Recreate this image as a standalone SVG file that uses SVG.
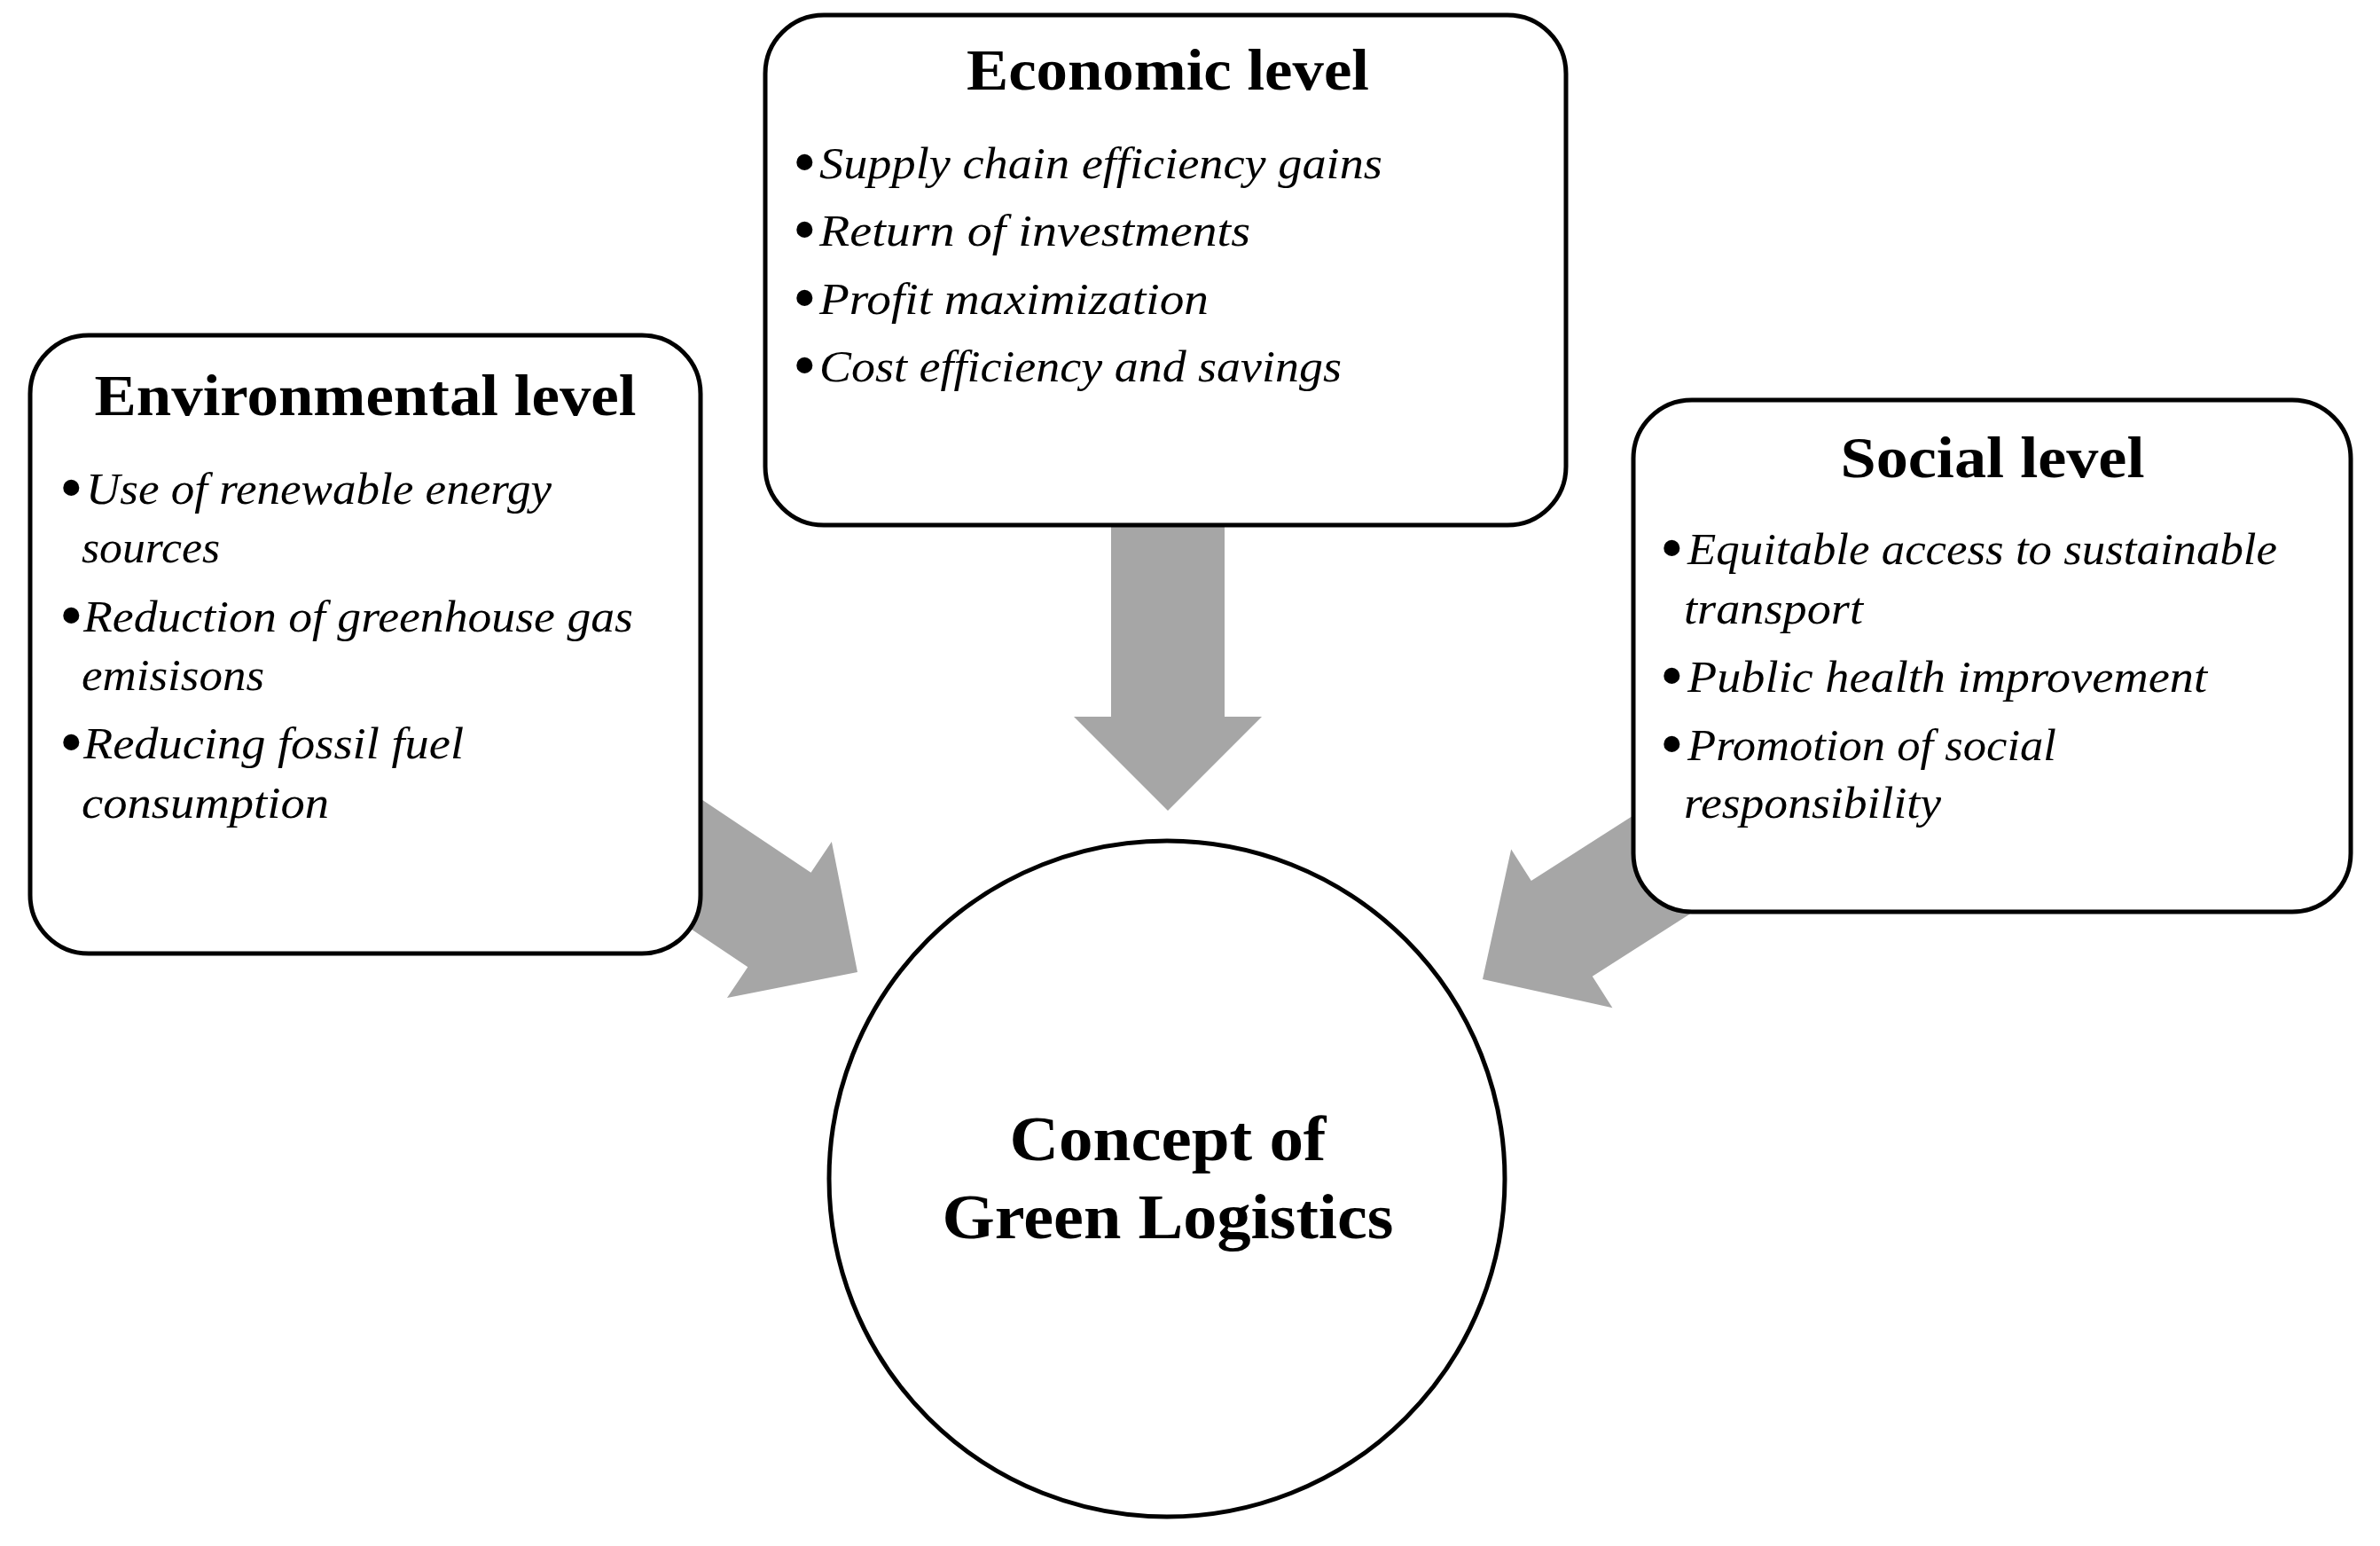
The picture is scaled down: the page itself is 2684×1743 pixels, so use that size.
<svg xmlns="http://www.w3.org/2000/svg" width="2684" height="1743" viewBox="0 0 2684 1743">
  <defs>
    <style>
      .box { fill: #ffffff; stroke: #000000; stroke-width: 5; }
      .arrow { fill: #a6a6a6; stroke: none; }
      .title { font-family: "Liberation Serif", "DejaVu Serif", serif; font-weight: bold; font-size: 66px; fill: #000; text-anchor: middle; }
      .center { font-family: "Liberation Serif", "DejaVu Serif", serif; font-weight: bold; font-size: 72px; fill: #000; text-anchor: middle; }
      .item { font-family: "Liberation Serif", "DejaVu Serif", serif; font-style: italic; font-size: 50px; fill: #000; }
      .bullet { font-family: "Liberation Serif", "DejaVu Serif", serif; font-size: 76px; fill: #000; }
    </style>
    <path id="arrowShape" d="M -340,-64 L -106,-64 L -106,-106 L 0,0 L -106,106 L -106,64 L -340,64 Z"/>
  </defs>
  <rect width="2684" height="1743" fill="#ffffff"/>

  <g id="connectors">
    <use href="#arrowShape" class="arrow" transform="translate(1317,914) rotate(90)"/>
    <use href="#arrowShape" class="arrow" transform="translate(967,1096) rotate(33.8)"/>
    <use href="#arrowShape" class="arrow" transform="translate(1672,1104) rotate(147.4)"/>
  </g>

  <g id="environmental">
    <rect class="box" x="34" y="378" width="756" height="697" rx="66" ry="66"/>
    <text class="title" x="412" y="468" textLength="611" lengthAdjust="spacingAndGlyphs">Environmental level</text>
    <text class="bullet" x="67" y="575">•</text>
    <text class="item" x="97" y="568" textLength="525" lengthAdjust="spacingAndGlyphs">Use of renewable energy</text>
    <text class="item" x="92" y="634" textLength="156" lengthAdjust="spacingAndGlyphs">sources</text>
    <text class="bullet" x="67" y="719">•</text>
    <text class="item" x="94" y="712" textLength="620" lengthAdjust="spacingAndGlyphs">Reduction of greenhouse gas</text>
    <text class="item" x="92" y="778" textLength="206" lengthAdjust="spacingAndGlyphs">emisisons</text>
    <text class="bullet" x="67" y="862">•</text>
    <text class="item" x="94" y="855" textLength="429" lengthAdjust="spacingAndGlyphs">Reducing fossil fuel</text>
    <text class="item" x="92" y="922" textLength="279" lengthAdjust="spacingAndGlyphs">consumption</text>
  </g>

  <g id="economic">
    <rect class="box" x="863" y="17" width="903" height="575" rx="66" ry="66"/>
    <text class="title" x="1317" y="101" textLength="454" lengthAdjust="spacingAndGlyphs">Economic level</text>
    <text class="bullet" x="894" y="208">•</text>
    <text class="item" x="924" y="201" textLength="635" lengthAdjust="spacingAndGlyphs">Supply chain efficiency gains</text>
    <text class="bullet" x="894" y="284">•</text>
    <text class="item" x="924" y="277" textLength="486" lengthAdjust="spacingAndGlyphs">Return of investments</text>
    <text class="bullet" x="894" y="361">•</text>
    <text class="item" x="924" y="354" textLength="439" lengthAdjust="spacingAndGlyphs">Profit maximization</text>
    <text class="bullet" x="894" y="437">•</text>
    <text class="item" x="924" y="430" textLength="589" lengthAdjust="spacingAndGlyphs">Cost efficiency and savings</text>
  </g>

  <g id="social">
    <rect class="box" x="1842" y="451" width="809" height="577" rx="66" ry="66"/>
    <text class="title" x="2247" y="538" textLength="343" lengthAdjust="spacingAndGlyphs">Social level</text>
    <text class="bullet" x="1872" y="643">•</text>
    <text class="item" x="1903" y="636" textLength="665" lengthAdjust="spacingAndGlyphs">Equitable access to sustainable</text>
    <text class="item" x="1899" y="703" textLength="202" lengthAdjust="spacingAndGlyphs">transport</text>
    <text class="bullet" x="1872" y="787">•</text>
    <text class="item" x="1903" y="780" textLength="586" lengthAdjust="spacingAndGlyphs">Public health improvement</text>
    <text class="bullet" x="1872" y="864">•</text>
    <text class="item" x="1903" y="857" textLength="416" lengthAdjust="spacingAndGlyphs">Promotion of social</text>
    <text class="item" x="1899" y="922" textLength="290" lengthAdjust="spacingAndGlyphs">responsibility</text>
  </g>

  <g id="concept">
    <circle class="box" cx="1316" cy="1329" r="381" stroke-width="4.5"/>
    <text class="center" x="1317" y="1308" textLength="357" lengthAdjust="spacingAndGlyphs">Concept of</text>
    <text class="center" x="1317" y="1396" textLength="509" lengthAdjust="spacingAndGlyphs">Green Logistics</text>
  </g>
</svg>
